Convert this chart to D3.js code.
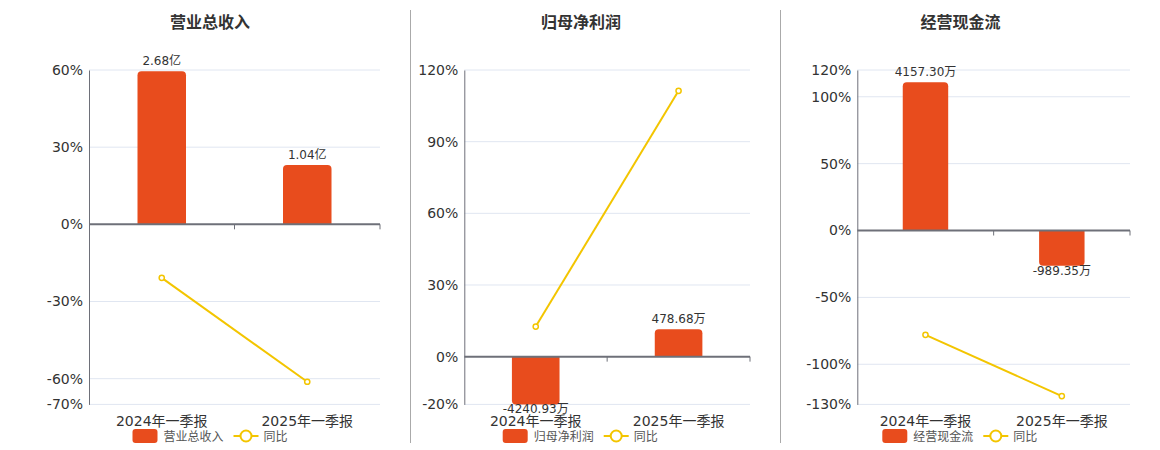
<!DOCTYPE html>
<html>
<head>
<meta charset="utf-8">
<script src="https://cdn.jsdelivr.net/npm/d3@7"></script>
<style>
  body { margin: 0; background: #fff; }
  svg text { font-family: "DejaVu Sans", "Noto Sans CJK SC", sans-serif; }
</style>
</head>
<body>
<svg id="chart" width="1160" height="450"></svg>
<script>
// ////////////////////////////////////////////////////////////////////////////
// DATA
// ////////////////////////////////////////////////////////////////////////////
const categories = ['2024年一季报', '2025年一季报'];
const titles = ['营业总收入', '归母净利润', '经营现金流'];

const revenueValues = [2.68, 1.04];      // 亿
const revenueYoY = [-20.8, -61.2];       // %
const profitValues = [-4240.93, 478.68]; // 万
const profitYoY = [12.6, 111.29];
const cashValues = [4157.30, -989.35];   // 万
const cashYoY = [-78.0, -123.8];

const units = ['亿', '万', '万'];
const revenueTicks = [-70, -60, -30, 0, 30, 60];
const profitTicks = [-20, 0, 30, 60, 90, 120];
const cashTicks = [-130, -100, -50, 0, 50, 100, 120];
// max of the hidden bar axis, its zero lines up with 0%
const barAxisMax = [2.7, 5000, 4500];

// ////////////////////////////////////////////////////////////////////////////
// LAYOUT
// ////////////////////////////////////////////////////////////////////////////
const BAR_COLOR = '#e84c1d';
const LINE_COLOR = '#f3c500';
const AXIS_COLOR = '#6e7079';
const GRID_COLOR = '#e0e6f1';
const TOP = 70;
const BOTTOM = 404.4;

const panels = [
  { left: 89, right: 380, titleX: 210, legendX: 132.5, values: revenueValues, yoy: revenueYoY, ticks: revenueTicks },
  { left: 464.3, right: 750, titleX: 581, legendX: 502.7, values: profitValues, yoy: profitYoY, ticks: profitTicks },
  { left: 857.3, right: 1130, titleX: 960.5, legendX: 882.3, values: cashValues, yoy: cashYoY, ticks: cashTicks },
];

const svg = d3.select('#chart');

// separators between panels
[410.5, 780.5].forEach((x) => {
  svg.append('line')
    .attr('x1', x).attr('x2', x)
    .attr('y1', 10).attr('y2', 443)
    .attr('stroke', '#aaa')
    .attr('stroke-width', 1);
});

// rounded only on the far end of the bar
function barPath(x, w, y0, y1) {
  const h = Math.abs(y1 - y0);
  const r = Math.min(4, h, w / 2);
  if (y1 <= y0) {
    return `M${x},${y0}V${y1 + r}Q${x},${y1} ${x + r},${y1}H${x + w - r}Q${x + w},${y1} ${x + w},${y1 + r}V${y0}Z`;
  }
  return `M${x},${y0}V${y1 - r}Q${x},${y1} ${x + r},${y1}H${x + w - r}Q${x + w},${y1} ${x + w},${y1 - r}V${y0}Z`;
}

panels.forEach((p, i) => {
  const g = svg.append('g');
  const yMin = d3.min(p.ticks);
  const yMax = d3.max(p.ticks);

  const y = d3.scaleLinear().domain([yMin, yMax]).range([BOTTOM, TOP]);
  const yBar = d3.scaleLinear()
    .domain([barAxisMax[i] * yMin / yMax, barAxisMax[i]])
    .range([BOTTOM, TOP])
    .clamp(true);
  const x = d3.scaleBand().domain(categories).range([p.left, p.right]);
  const barW = x.bandwidth() / 3;

  // title
  g.append('text')
    .attr('x', p.titleX).attr('y', 28)
    .attr('text-anchor', 'middle')
    .attr('font-size', 16).attr('font-weight', 'bold')
    .attr('fill', '#333')
    .text(titles[i]);

  // grid
  g.selectAll('line.grid')
    .data(p.ticks.filter(t => t !== 0))
    .enter().append('line')
      .attr('class', 'grid')
      .attr('x1', p.left).attr('x2', p.right)
      .attr('y1', d => y(d)).attr('y2', d => y(d))
      .attr('stroke', GRID_COLOR);

  // y axis
  const yAxis = d3.axisLeft(y)
    .tickValues(p.ticks)
    .tickSize(0)
    .tickPadding(6)
    .tickFormat(d => `${d}%`);
  const ya = g.append('g').attr('transform', `translate(${p.left},0)`).call(yAxis);
  ya.select('.domain').attr('stroke', AXIS_COLOR);
  ya.selectAll('text')
    .attr('font-size', 14)
    .attr('fill', '#333')
    .attr('font-family', '"DejaVu Sans", sans-serif');

  // bars
  g.selectAll('path.bar')
    .data(p.values)
    .enter().append('path')
      .attr('class', 'bar')
      .attr('fill', BAR_COLOR)
      .attr('d', (d, j) => barPath(x(categories[j]) + barW, barW, yBar(0), yBar(d)));

  // bar labels
  g.selectAll('text.barlabel')
    .data(p.values)
    .enter().append('text')
      .attr('class', 'barlabel')
      .attr('x', (d, j) => x(categories[j]) + x.bandwidth() / 2)
      .attr('y', d => (d >= 0 ? yBar(d) - 6 : yBar(d) + 9))
      .attr('text-anchor', 'middle')
      .attr('font-size', 12)
      .attr('fill', '#333')
      .text(d => d.toFixed(2) + units[i]);

  // zero line with ticks
  const xa = g.append('g')
    .attr('transform', `translate(0,${y(0)})`)
    .call(d3.axisBottom(x).tickSize(0).tickFormat(''));
  xa.select('.domain').remove();
  g.append('line')
    .attr('x1', p.left).attr('x2', p.right)
    .attr('y1', y(0)).attr('y2', y(0))
    .attr('stroke', AXIS_COLOR).attr('stroke-width', 2);
  g.selectAll('line.xtick')
    .data(categories)
    .enter().append('line')
      .attr('class', 'xtick')
      .attr('x1', d => x(d) + x.bandwidth()).attr('x2', d => x(d) + x.bandwidth())
      .attr('y1', y(0)).attr('y2', y(0) + 5)
      .attr('stroke', AXIS_COLOR);

  // category labels under the plot
  g.selectAll('text.cat')
    .data(categories)
    .enter().append('text')
      .attr('class', 'cat')
      .attr('x', d => x(d) + x.bandwidth() / 2)
      .attr('y', 426)
      .attr('text-anchor', 'middle')
      .attr('font-size', 14)
      .attr('fill', '#333')
      .text(d => d);

  // yoy line
  const line = d3.line()
    .x((d, j) => x(categories[j]) + x.bandwidth() / 2)
    .y(d => y(d));
  g.append('path')
    .datum(p.yoy)
    .attr('d', line)
    .attr('fill', 'none')
    .attr('stroke', LINE_COLOR)
    .attr('stroke-width', 2);
  g.selectAll('circle.pt')
    .data(p.yoy)
    .enter().append('circle')
      .attr('class', 'pt')
      .attr('cx', (d, j) => x(categories[j]) + x.bandwidth() / 2)
      .attr('cy', d => y(d))
      .attr('r', 2.6)
      .attr('fill', '#fff')
      .attr('stroke', LINE_COLOR)
      .attr('stroke-width', 1.5);

  // legend
  const lg = g.append('g').attr('transform', `translate(${p.legendX},436)`);
  lg.append('rect')
    .attr('x', 0).attr('y', -7)
    .attr('width', 25).attr('height', 14)
    .attr('rx', 3)
    .attr('fill', BAR_COLOR);
  const nameW = titles[i].length * 12;
  lg.append('text')
    .attr('x', 31).attr('y', 4.5)
    .attr('font-size', 12)
    .attr('fill', '#555')
    .text(titles[i]);
  const lx = 31 + nameW + 10;
  lg.append('line')
    .attr('x1', lx).attr('x2', lx + 25)
    .attr('y1', 0).attr('y2', 0)
    .attr('stroke', LINE_COLOR).attr('stroke-width', 2);
  lg.append('circle')
    .attr('cx', lx + 12.5).attr('cy', 0)
    .attr('r', 5.5)
    .attr('fill', '#fff')
    .attr('stroke', LINE_COLOR).attr('stroke-width', 2);
  lg.append('text')
    .attr('x', lx + 30).attr('y', 4.5)
    .attr('font-size', 12)
    .attr('fill', '#555')
    .text('同比');
});
</script>
</body>
</html>
